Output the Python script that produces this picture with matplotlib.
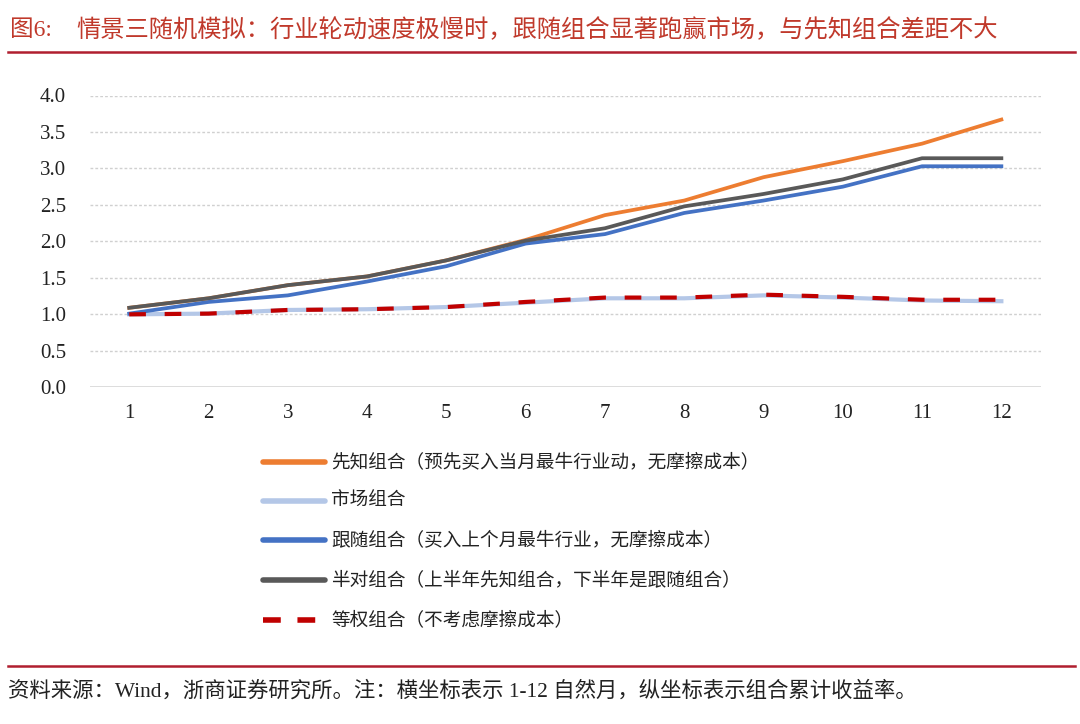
import matplotlib
matplotlib.use("Agg")
import matplotlib.pyplot as plt
from matplotlib.lines import Line2D

months = [1, 2, 3, 4, 5, 6, 7, 8, 9, 10, 11, 12]
month_labels = [str(m) for m in months]

prophet = [1.09, 1.22, 1.40, 1.52, 1.74, 2.02, 2.36, 2.56, 2.88, 3.10, 3.34, 3.67]
market = [1.00, 1.01, 1.06, 1.07, 1.10, 1.16, 1.22, 1.22, 1.26, 1.23, 1.19, 1.18]
follow = [1.01, 1.17, 1.26, 1.45, 1.66, 1.97, 2.10, 2.39, 2.56, 2.75, 3.03, 3.03]
half = [1.09, 1.22, 1.40, 1.52, 1.74, 2.01, 2.18, 2.48, 2.65, 2.85, 3.14, 3.14]
equal = [1.00, 1.01, 1.06, 1.07, 1.10, 1.17, 1.23, 1.23, 1.27, 1.24, 1.20, 1.20]

labels = [
    "先知组合（预先买入当月最牛行业动，无摩擦成本）",
    "市场组合",
    "跟随组合（买入上个月最牛行业，无摩擦成本）",
    "半对组合（上半年先知组合，下半年是跟随组合）",
    "等权组合（不考虑摩擦成本）",
]
colors = ["#ED7D31", "#B4C7E7", "#4472C4", "#595959", "#C00000"]
series = [prophet, market, follow, half, equal]

yticks = [0.0, 0.5, 1.0, 1.5, 2.0, 2.5, 3.0, 3.5, 4.0]

title_prefix = "图6:"
title = "情景三随机模拟：行业轮动速度极慢时，跟随组合显著跑赢市场，与先知组合差距不大"
footer = "资料来源：Wind，浙商证券研究所。注：横坐标表示 1-12 自然月，纵坐标表示组合累计收益率。"

W, H = 1080, 724
fig = plt.figure(figsize=(W / 100, H / 100), dpi=100)
fig.patch.set_facecolor("white")

def fx(px):
    return px / W

def fy(py):
    return 1 - py / H

ax = fig.add_axes([fx(89.6), fy(387.3), fx(1041) - fx(89.6), fy(95.5) - fy(387.3)])
ax.set_xlim(0.5, 12.5)
ax.set_ylim(0, 4)

for y in yticks[1:]:
    ax.axhline(y, color="#D0D0D0", lw=1.0, ls=(0, (2, 1.5)), zorder=0)
ax.axhline(0, color="#D9D9D9", lw=2.0, zorder=0)

for i in range(5):
    if i == 4:
        ax.plot(months, series[i], color=colors[i], lw=3.0, ls=(0, (4, 4.5)), zorder=6)
    elif i == 1:
        ax.plot(months, series[i], color=colors[i], lw=3.0, zorder=3)
    else:
        ax.plot(months, series[i], color=colors[i], lw=2.7, zorder=3 + i)

for s in ["top", "right", "left", "bottom"]:
    ax.spines[s].set_visible(False)
ax.set_xticks(months)
ax.set_xticklabels(month_labels)
ax.set_yticks(yticks)
ax.set_yticklabels([f"{v:.1f}" for v in yticks])
ax.tick_params(length=0, labelsize=15, colors="#222222")
ax.tick_params(axis="x", pad=12)
ax.tick_params(axis="y", pad=17)
for t in ax.get_xticklabels() + ax.get_yticklabels():
    t.set_fontfamily("Liberation Serif")

# Legend drawn manually
rows_y = [462, 501, 540, 580, 620]
for i, yy in enumerate(rows_y):
    ls = (0, (3.2, 3.0)) if i == 4 else "-"
    fig.add_artist(Line2D([fx(263), fx(325)], [fy(yy), fy(yy)], color=colors[i], lw=4.0, ls=ls,
                          transform=fig.transFigure, solid_capstyle="round"))
    fig.text(fx(331), fy(yy), labels[i], fontsize=13.4, va="center", ha="left",
             family=["Noto Sans CJK SC", "DejaVu Sans"], color="#222222")

# Title and rules
fig.text(fx(10), fy(30), title_prefix, fontsize=17, va="center", ha="left", color="#C0392B",
         family=["Liberation Serif", "Noto Sans CJK SC"])
fig.text(fx(76), fy(30), title, fontsize=17.5, va="center", ha="left", color="#C0392B",
         family=["Noto Sans CJK SC", "DejaVu Sans"])
fig.add_artist(Line2D([fx(8), fx(1075)], [fy(52), fy(52)], color="#B01E2F", lw=1.8,
                      transform=fig.transFigure))
fig.add_artist(Line2D([fx(8), fx(1075)], [fy(666), fy(666)], color="#B01E2F", lw=1.8,
                      transform=fig.transFigure))
fig.text(fx(8), fy(691), footer, fontsize=15.4, va="center", ha="left", color="#222222",
         family=["Liberation Serif", "Noto Sans CJK SC"])

fig.savefig("out.png", dpi=100, facecolor="white")
